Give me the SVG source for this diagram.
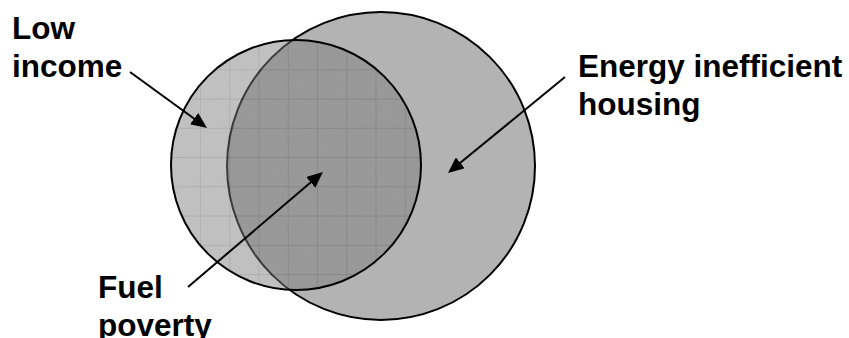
<svg xmlns="http://www.w3.org/2000/svg" width="849" height="338" viewBox="0 0 849 338">
  <style>
    .label { font-family: "Liberation Sans", Arial, sans-serif; font-weight: bold; font-size: 31.5px; fill: #000; }
    .outline { fill: none; stroke: #000; stroke-width: 2; }
    .arrow { stroke: #000; stroke-width: 2; fill: none; marker-end: url(#head); }
  </style>
  <defs>
    <marker id="head" markerUnits="userSpaceOnUse" viewBox="0 0 16 14" markerWidth="16" markerHeight="14" refX="2" refY="7" orient="auto">
      <path d="M0,0 L16,7 L0,14 Z" fill="#000"/>
    </marker>
    <pattern id="grid" patternUnits="userSpaceOnUse" x="200" y="69.3" width="29.25" height="29.25">
      <rect width="29.25" height="29.25" fill="#797979"/>
      <path d="M0,0 H29.25 M0,0 V29.25" stroke="#3a3a3a" stroke-width="1.3" fill="none"/>
    </pattern>
    <filter id="speckle" x="0" y="0" width="100%" height="100%">
      <feTurbulence type="fractalNoise" baseFrequency="0.9" numOctaves="1" seed="3" result="noise"/>
      <feColorMatrix in="noise" type="matrix" values="0 0 0 0 0.3  0 0 0 0 0.3  0 0 0 0 0.3  0 0 0 0.35 0" result="grain"/>
      <feComposite in="grain" in2="SourceGraphic" operator="in" result="grainClip"/>
      <feMerge>
        <feMergeNode in="SourceGraphic"/>
        <feMergeNode in="grainClip"/>
      </feMerge>
    </filter>
  </defs>

  <g id="energy-inefficient-housing">
    <circle cx="381" cy="166" r="154" fill="#b3b3b3" stroke="#000" stroke-width="2"/>
    <text class="label" x="578" y="77">Energy inefficient</text>
    <text class="label" x="578" y="115">housing</text>
  </g>

  <g id="low-income">
    <circle cx="296" cy="165" r="125" fill="url(#grid)" fill-opacity="0.44" filter="url(#speckle)"/>
    <circle class="outline" cx="296" cy="165" r="125"/>
    <text class="label" x="12" y="39">Low</text>
    <text class="label" x="12" y="77">income</text>
  </g>

  <g id="fuel-poverty">
    <text class="label" x="98" y="298">Fuel</text>
    <text class="label" x="98" y="336">poverty</text>
  </g>

  <g id="connectors">
    <line class="arrow" x1="130" y1="72" x2="195.7" y2="119.8"/>
    <line class="arrow" x1="565" y1="77" x2="458.8" y2="164.1"/>
    <line class="arrow" x1="188" y1="287" x2="312.3" y2="181.1"/>
  </g>
</svg>
